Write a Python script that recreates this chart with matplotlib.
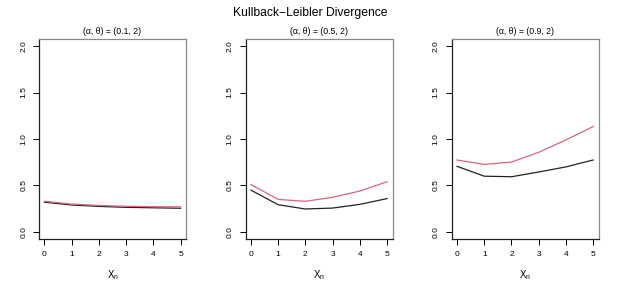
import numpy as np
import matplotlib
matplotlib.use('Agg')
import matplotlib.pyplot as plt

plt.rcParams['font.family'] = ['Liberation Sans', 'DejaVu Sans']

# Du lieu doc tu hinh goc
x_n = [0, 1, 2, 3, 4, 5]
panel_titles = ["(α, θ) = (0.1, 2)", "(α, θ) = (0.5, 2)", "(α, θ) = (0.9, 2)"]
black_vals = [
    [0.32, 0.29, 0.275, 0.265, 0.26, 0.255],
    [0.45, 0.293, 0.247, 0.257, 0.297, 0.359],
    [0.706, 0.60, 0.594, 0.645, 0.70, 0.774],
]
pink_vals = [
    [0.33, 0.30, 0.285, 0.277, 0.272, 0.27],
    [0.51, 0.35, 0.33, 0.373, 0.44, 0.54],
    [0.774, 0.727, 0.752, 0.857, 0.99, 1.134],
]
y_ticks = [0.0, 0.5, 1.0, 1.5, 2.0]

W, H = 619, 288
fig = plt.figure(figsize=(W / 100, H / 100), dpi=100)

lefts = [39, 245.5, 451.6]
box_w = 147
top, bottom = 38.6, 239.4

for k in range(3):
    ax = fig.add_axes([lefts[k] / W, 1 - bottom / H, box_w / W, (bottom - top) / H])
    ax.plot(x_n, black_vals[k], color='#222222', lw=0.9)
    ax.plot(x_n, pink_vals[k], color='#D9667F', lw=0.9)
    ax.set_xlim(-0.2, 5.2)
    ax.set_ylim(-0.08, 2.08)
    ax.set_xticks(x_n)
    ax.set_yticks(y_ticks)
    ax.set_yticklabels([f"{v:.1f}" for v in y_ticks], rotation=90, va='center')
    ax.tick_params(labelsize=6, length=4.5, width=0.7, pad=4)
    for name, s in ax.spines.items():
        s.set_linewidth(0.9)
        s.set_color('#222222' if name in ('left', 'bottom') else '#8a8a8a')
    ax.set_title(panel_titles[k], fontsize=6.3, pad=3)
    ax.set_xlabel(r"X$_\mathregular{n}$", fontsize=7, labelpad=7)

fig.text(310 / W, 1 - 13 / H, "Kullback−Leibler Divergence", ha='center', va='center', fontsize=8.7)

fig.savefig("out.png", dpi=100)
